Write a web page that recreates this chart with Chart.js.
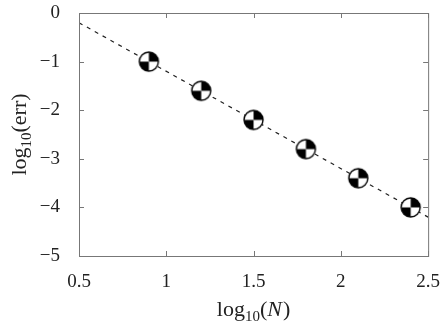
<!DOCTYPE html>
<html>
<head>
<meta charset="utf-8">
<script src="https://cdn.jsdelivr.net/npm/chart.js@4/dist/chart.umd.min.js"></script>
<style>
  html, body { margin: 0; padding: 0; background: #fff; }
  #wrap { width: 447px; height: 324px; }
</style>
</head>
<body>
<div id="wrap"><canvas id="errChart"></canvas></div>
<script>
// data
const logN = [0.9, 1.2, 1.5, 1.8, 2.1, 2.4];
const logErr = [-1.0, -1.6, -2.2, -2.8, -3.4, -4.0];
const fitX = [0.5, 2.5];
const fitY = [-0.2, -4.2];
const xTicks = [0.5, 1, 1.5, 2, 2.5];
const yTicks = [0, -1, -2, -3, -4, -5];

const FONT = '"Liberation Serif", "DejaVu Serif", serif';
const AXIS = '#777';

// quartered circle marker
function makeMarker(r) {
  const s = Math.ceil(r * 2 + 4);
  const c = document.createElement('canvas');
  c.width = s; c.height = s;
  const g = c.getContext('2d');
  const cx = s / 2, cy = s / 2;
  g.fillStyle = '#fff';
  g.beginPath(); g.arc(cx, cy, r, 0, Math.PI * 2); g.fill();
  g.fillStyle = '#000';
  // top-right quarter
  g.beginPath(); g.moveTo(cx, cy); g.arc(cx, cy, r, -Math.PI / 2, 0); g.closePath(); g.fill();
  // bottom-left quarter
  g.beginPath(); g.moveTo(cx, cy); g.arc(cx, cy, r, Math.PI / 2, Math.PI); g.closePath(); g.fill();
  g.strokeStyle = '#000';
  g.lineWidth = 1.4;
  g.beginPath(); g.arc(cx, cy, r, 0, Math.PI * 2); g.stroke();
  return c;
}

const minus = v => (v < 0 ? '\u2212' + Math.abs(v) : String(v));

// frame, inward ticks and axis titles
const framePlugin = {
  id: 'frame',
  afterDraw(chart) {
    const { ctx, chartArea: a, scales } = chart;
    ctx.save();
    ctx.strokeStyle = AXIS;
    ctx.lineWidth = 1;
    ctx.strokeRect(a.left + 0.5, a.top + 0.5, a.right - a.left, a.bottom - a.top);
    ctx.beginPath();
    xTicks.forEach(v => {
      const px = Math.round(scales.x.getPixelForValue(v)) + 0.5;
      ctx.moveTo(px, a.bottom); ctx.lineTo(px, a.bottom - 5);
      ctx.moveTo(px, a.top); ctx.lineTo(px, a.top + 5);
    });
    yTicks.forEach(v => {
      const py = Math.round(scales.y.getPixelForValue(v)) + 0.5;
      ctx.moveTo(a.left, py); ctx.lineTo(a.left + 5, py);
      ctx.moveTo(a.right, py); ctx.lineTo(a.right - 5, py);
    });
    ctx.stroke();

    const big = '22px ' + FONT, small = '15px ' + FONT;
    ctx.fillStyle = '#222';
    ctx.textBaseline = 'alphabetic';
    ctx.textAlign = 'left';
    // x title: log10(N)
    const cx = (a.left + a.right) / 2;
    const base = 316;
    ctx.font = big;
    const w1 = ctx.measureText('log').width;
    ctx.font = small;
    const w2 = ctx.measureText('10').width;
    ctx.font = big;
    const w3 = ctx.measureText('(').width;
    ctx.font = 'italic ' + big;
    const w4 = ctx.measureText('N').width;
    ctx.font = big;
    const w5 = ctx.measureText(')').width;
    let x = cx - (w1 + w2 + w3 + w4 + w5 + 1) / 2;
    ctx.fillText('log', x, base); x += w1;
    ctx.font = small; ctx.fillText('10', x, base + 5); x += w2;
    ctx.font = big; ctx.fillText('(', x, base); x += w3;
    ctx.font = 'italic ' + big; ctx.fillText('N', x, base); x += w4 + 1;
    ctx.font = big; ctx.fillText(')', x, base);

    // y title: log10(err), rotated
    ctx.translate(26, (a.top + a.bottom) / 2);
    ctx.rotate(-Math.PI / 2);
    ctx.font = big;
    const v1 = ctx.measureText('log').width;
    ctx.font = small;
    const v2 = ctx.measureText('10').width;
    ctx.font = big;
    const v3 = ctx.measureText('(err)').width;
    let y = -(v1 + v2 + v3) / 2;
    ctx.fillText('log', y, 0); y += v1;
    ctx.font = small; ctx.fillText('10', y, 5); y += v2;
    ctx.font = big; ctx.fillText('(err)', y, 0);
    ctx.restore();
  }
};

new Chart(document.getElementById('errChart'), {
  type: 'scatter',
  data: {
    datasets: [
      {
        label: 'fit',
        type: 'line',
        data: fitX.map((x, i) => ({ x, y: fitY[i] })),
        borderColor: '#222',
        borderWidth: 1.2,
        borderDash: [4, 5],
        pointRadius: 0,
        fill: false,
        order: 2
      },
      {
        label: 'error',
        data: logN.map((x, i) => ({ x, y: logErr[i] })),
        pointStyle: makeMarker(9.5),
        pointRadius: 10,
        order: 1
      }
    ]
  },
  options: {
    responsive: true,
    maintainAspectRatio: false,
    animation: false,
    layout: { padding: { top: 0, right: 15, left: 0, bottom: 0 } },
    plugins: { legend: { display: false }, tooltip: { enabled: false } },
    scales: {
      x: {
        type: 'linear',
        min: 0.5, max: 2.5,
        afterBuildTicks: s => { s.ticks = xTicks.map(v => ({ value: v })); },
        afterFit: s => { s.height = 68; },
        grid: { display: false },
        border: { display: false },
        ticks: {
          color: '#222',
          font: { family: FONT, size: 19 },
          padding: 7,
          maxRotation: 0,
          callback: v => String(v)
        }
      },
      y: {
        type: 'linear',
        min: -5, max: 0,
        afterBuildTicks: s => { s.ticks = yTicks.map(v => ({ value: v })); },
        afterFit: s => { s.width = 79; s.paddingTop = 13; },
        grid: { display: false },
        border: { display: false },
        ticks: {
          color: '#222',
          font: { family: FONT, size: 19 },
          padding: 11,
          callback: v => minus(v)
        }
      }
    }
  },
  plugins: [framePlugin]
});
</script>
</body>
</html>
